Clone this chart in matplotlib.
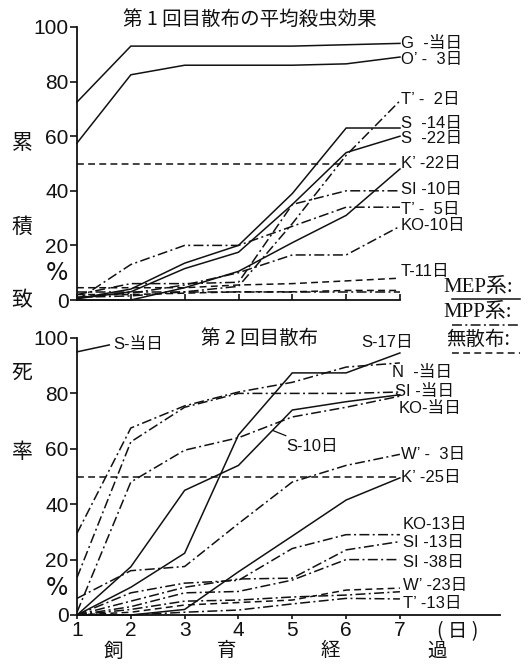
import matplotlib
matplotlib.use('Agg')
import matplotlib.pyplot as plt
from matplotlib import font_manager as fm
from matplotlib.lines import Line2D

names = {f.name for f in fm.fontManager.ttflist}
NARROW = 'Liberation Sans Narrow' if 'Liberation Sans Narrow' in names else 'Liberation Sans'
CJK = 'Noto Sans CJK JP'
SERIF = 'Liberation Serif'
plt.rcParams['font.family'] = [NARROW, CJK, 'DejaVu Sans']

days = [1, 2, 3, 4, 5, 6, 7]
y_ticks = [0, 20, 40, 60, 80, 100]
x_tick_labels = ['1', '2', '3', '4', '5', '6', '7']

# ---- 第1回目散布 (top panel) ----
g_today = [72.5, 93, 93, 93, 93, 93.5, 94]
o_3 = [57.5, 82.5, 86, 86, 86, 86.5, 89]
s_14 = [0.5, 4, 13.5, 20, 39, 63, 63]
s_22 = [0.5, 3, 11.5, 17.5, 35, 54, 60]
k_22 = [0, 0, 4.5, 10.5, 21, 31, 48]
t_2 = [1, 1.5, 3, 5, 28, 53, 73]
si_10 = [2, 6, 6, 6.5, 35, 40, 40]
t_5 = [0, 13, 20, 20, 27, 34, 34]
ko_10 = [1, 2.5, 5.5, 10, 16.5, 16.5, 27]
mpp_flat = [3, 3, 3, 3, 3, 3, 3]
t_11 = [4.5, 4.5, 4.5, 5.5, 6, 7, 8]
ctrl_top = [2, 2, 2.5, 3, 3, 3.5, 3.5]
ref_50 = [50, 50, 50, 50, 50, 50, 50]

# ---- 第2回目散布 (bottom panel) ----
s_today_days = [1, 1.6]
s_today = [95, 97.5]
n_today = [29.5, 67.5, 75.5, 80.5, 84, 89.5, 91]
si_today = [13.5, 62.5, 75, 80, 80, 80, 80.5]
ko_today = [1, 48, 59.5, 64, 71.5, 75, 79]
s_17 = [0, 10, 22.3, 65, 87.4, 87.4, 94.6]
s_10 = [0, 17.4, 45, 54, 74, 77, 79.5]
w_3 = [6, 16, 17.5, 33, 48, 54, 58]
k_25 = [0, 0, 2, 15.6, 28.5, 41.5, 49.5]
ko_13 = [0, 8, 11.5, 12.5, 24, 29, 29]
si_13 = [0, 5, 10, 13, 13.3, 23.5, 26.5]
si_38 = [0, 3, 8, 8.5, 12.6, 20, 20]
w_23 = [0, 2, 5, 5.4, 6.5, 7.2, 8.4]
ctrl_bot = [0, 1, 3.6, 4.5, 5.4, 9, 9.7]
t_13 = [0, 0, 1, 1.8, 4, 6, 5.8]

SOLID = '-'
DASHDOT = (0, (6.5, 2.2, 1.3, 2.2))
DASHED = (0, (4.5, 2.8))
LW = 1.1
C = '#111111'

fig = plt.figure(figsize=(5.32, 6.64), dpi=100)
ax1 = fig.add_axes([77/532, 1-300/664, 323/532, 273/664])
ax2 = fig.add_axes([77/532, 1-615/664, 423/532, 277/664])

TICKFAM = [NARROW, 'DejaVu Sans']
for ax in (ax1, ax2):
    ax.spines['top'].set_visible(False)
    ax.spines['right'].set_visible(False)
    for s in ('left', 'bottom'):
        ax.spines[s].set_linewidth(1.3)
        ax.spines[s].set_color(C)
    ax.set_ylim(0, 100)
    ax.set_yticks(y_ticks)
    ax.set_yticklabels([str(v) for v in y_ticks], fontsize=15, family=TICKFAM)
    ax.tick_params(axis='y', direction='out', length=5, width=1.2, pad=1, colors=C)
    ax.patch.set_alpha(0)

ax1.set_xlim(1, 7)
ax1.set_xticks(days)
ax1.tick_params(axis='x', direction='in', length=4, width=1.2, labelbottom=False, colors=C)

ax2.set_xlim(1, 8.86)
ax2.set_xticks(days)
ax2.set_xticklabels(x_tick_labels, fontsize=15, family=TICKFAM)
ax2.tick_params(axis='x', direction='out', length=3, width=1.2, pad=1, colors=C)

def draw(ax, x, y, ls):
    ax.plot(x, y, linestyle=ls, color=C, lw=LW, clip_on=False, solid_joinstyle='miter')

top_series = [
    (g_today, SOLID), (o_3, SOLID), (s_14, SOLID), (s_22, SOLID), (k_22, SOLID),
    (t_2, DASHDOT), (si_10, DASHDOT), (t_5, DASHDOT), (ko_10, DASHDOT), (mpp_flat, DASHDOT),
    (t_11, DASHED), (ctrl_top, DASHED), (ref_50, DASHED),
]
for y, ls in top_series:
    draw(ax1, days, y, ls)

bot_series = [
    (s_17, SOLID), (s_10, SOLID), (k_25, SOLID),
    (n_today, DASHDOT), (si_today, DASHDOT), (ko_today, DASHDOT), (w_3, DASHDOT),
    (ko_13, DASHDOT), (si_13, DASHDOT), (si_38, DASHDOT), (w_23, DASHDOT), (t_13, DASHDOT),
    (ctrl_bot, DASHED), (ref_50, DASHED),
]
for y, ls in bot_series:
    draw(ax2, days, y, ls)
draw(ax2, s_today_days, s_today, SOLID)

LAB = dict(fontsize=12, va='center', ha='left', clip_on=False, color=C, family=[NARROW, CJK])

top_labels = [
    ('G  -当日', 7.02, 94), ('O’ -  3日', 7.02, 88), ('T’ -  2日', 7.02, 73.6),
    ('S  -14日', 7.02, 64.6), ('S  -22日', 7.02, 59.2), ('K’ -22日', 7.02, 50),
    ('SI -10日', 7.02, 40.3), ('T’ -  5日', 7.02, 33.3), ('KO-10日', 7.02, 27.3),
    ('T-11日', 7.02, 10.3),
]
for t, x, y in top_labels:
    ax1.text(x, y, t, **LAB)

bot_labels = [
    ('S-当日', 1.68, 97.5), ('S-17日', 6.28, 98.5), ('N  -当日', 6.85, 87.6),
    ('SI -当日', 6.9, 80.7), ('KO-当日', 6.98, 74.5), ('W’ -  3日', 7.02, 57.8),
    ('K’ -25日', 7.02, 49.5), ('KO-13日', 7.05, 32.5), ('SI -13日', 7.05, 26),
    ('SI -38日', 7.05, 19), ('W’ -23日', 7.05, 10.8), ('T’ -13日', 7.05, 4.3),
]
for t, x, y in bot_labels:
    ax2.text(x, y, t, **LAB)
ax2.annotate('S-10日', xy=(4.64, 66.6), xytext=(4.88, 61), fontsize=12, va='center', ha='left',
             family=[NARROW, CJK], color=C,
             arrowprops=dict(arrowstyle='-', color=C, lw=0.9, shrinkA=0, shrinkB=0))

def ftext(px, py, s, size=14, fam=None, **kw):
    fig.text(px/532, 1-py/664, s, fontsize=size, ha=kw.pop('ha', 'center'), va=kw.pop('va', 'center'),
             family=fam or [CJK, 'DejaVu Sans'], color=C, **kw)

ftext(250, 19, '第 1 回目散布の平均殺虫効果', 14)
ftext(260, 338, '第 2 回目散布', 14)
for ch, py in [('累', 143), ('積', 227), ('致', 300), ('死', 373), ('率', 452)]:
    ftext(22, py, ch, 15)
ftext(57, 273, '%', 17, fam=['DejaVu Sans'])
ftext(57, 588, '%', 17, fam=['DejaVu Sans'])
for ch, px in [('飼', 113), ('育', 227), ('経', 330), ('過', 437)]:
    ftext(px, 651, ch, 14)
ftext(458, 632, '( 日 )', 14)

# legend
ftext(443, 287, 'MEP系:', 15, fam=[SERIF, CJK], ha='left')
ftext(443, 312, 'MPP系:', 15, fam=[SERIF, CJK], ha='left')
ftext(446, 339, '無散布:', 14, fam=[CJK, SERIF], ha='left')
for py, ls in [(299, SOLID), (325, DASHDOT), (353, DASHED)]:
    fig.add_artist(Line2D([452/532, 520/532], [1-py/664, 1-py/664], transform=fig.transFigure,
                          color=C, lw=1.1, linestyle=ls))

fig.savefig('out.png', dpi=100, facecolor='white')
